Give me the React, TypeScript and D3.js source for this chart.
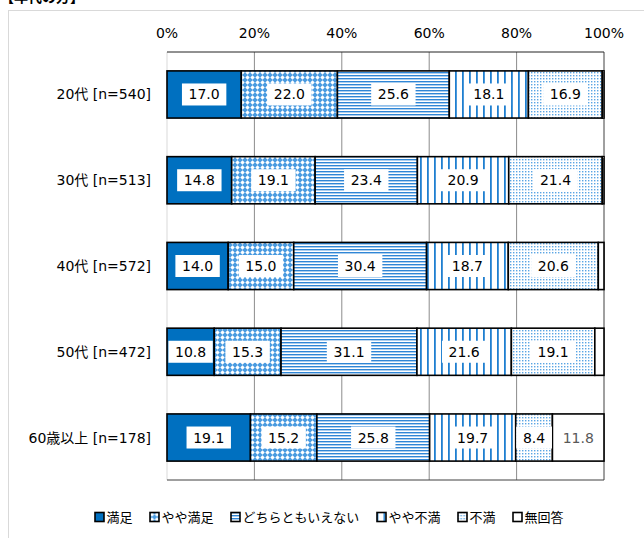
import React from 'react';
import * as d3 from 'd3';

const categories = ['20代 [n=540]', '30代 [n=513]', '40代 [n=572]', '50代 [n=472]', '60歳以上 [n=178]'];
const seriesNames = ['満足', 'やや満足', 'どちらともいえない', 'やや不満', '不満', '無回答'];
const manzoku = [17.0, 14.8, 14.0, 10.8, 19.1];
const yayaManzoku = [22.0, 19.1, 15.0, 15.3, 15.2];
const dochiramo = [25.6, 23.4, 30.4, 31.1, 25.8];
const yayaFuman = [18.1, 20.9, 18.7, 21.6, 19.7];
const fuman = [16.9, 21.4, 20.6, 19.1, 8.4];
const mukaitou = [0.4, 0.4, 1.3, 2.1, 11.8];
const ticks = [0, 20, 40, 60, 80, 100];

const seriesValues = [manzoku, yayaManzoku, dochiramo, yayaFuman, fuman, mukaitou];
const fills = ['#0070C0', 'url(#pDiamond)', 'url(#pHoriz)', 'url(#pVert)', 'url(#pDots)', '#ffffff'];

const FONT = '"DejaVu Sans", "Noto Sans CJK JP", sans-serif';

export default function App() {
  const W = 644;
  const H = 538;

  const rows = categories.map((c, i) => {
    const r: any = { cat: c };
    seriesNames.forEach((s, j) => (r[s] = seriesValues[j][i]));
    return r;
  });
  const stacked = d3.stack<any>().keys(seriesNames)(rows);

  const x = d3.scaleLinear().domain([0, 100]).range([167, 604]);
  const y = d3.scaleBand<string>().domain(categories).range([51.6, 480.4]).paddingInner(0.45).paddingOuter(0.225);

  // legend layout
  const iconW = 9;
  const gapIconText = 3;
  const gapItems = 17;
  const charW = (s: string) => s.length * 13;
  const itemWidths = seriesNames.map(s => iconW + gapIconText + charW(s));
  const totalLegend = d3.sum(itemWidths) + gapItems * (seriesNames.length - 1);
  let lx = 329 - totalLegend / 2;
  const legendX = itemWidths.map(w => {
    const p = lx;
    lx += w + gapItems;
    return p;
  });

  return (
    <div style={{ position: 'absolute', left: 0, top: 0, background: '#fff' }}>
      <svg width={W} height={H} style={{ display: 'block', fontFamily: FONT }}>
        <defs>
          <pattern id="pDiamond" width="5" height="5" patternUnits="userSpaceOnUse">
            <rect width="5" height="5" fill="#4a9be0" />
            <polygon points="2.5,0.3 4.7,2.5 2.5,4.7 0.3,2.5" fill="#ffffff" />
          </pattern>
          <pattern id="pHoriz" width="3" height="3" patternUnits="userSpaceOnUse">
            <rect width="3" height="3" fill="#ffffff" />
            <rect width="3" height="1.4" fill="#2f86d6" />
          </pattern>
          <pattern id="pVert" width="7" height="7" patternUnits="userSpaceOnUse">
            <rect width="7" height="7" fill="#ffffff" />
            <rect width="1.8" height="7" fill="#1f7fd0" />
          </pattern>
          <pattern id="pDots" width="3" height="3" patternUnits="userSpaceOnUse">
            <rect width="3" height="3" fill="#ffffff" />
            <rect width="1.4" height="1.4" fill="#5aa5e4" />
          </pattern>
        </defs>

        <rect x={0} y={0} width={W} height={H} fill="#fff" />
        {/* heading, clipped by the page top as in the source */}
        <text x={0} y={2} fontSize={14} fontWeight="bold" fill="#000">【年代の方】</text>
        {/* outer frame */}
        <rect x={8.5} y={10.5} width={W} height={H} fill="none" stroke="#d9d9d9" />

        {/* gridlines */}
        {ticks.slice(1, -1).map(t => (
          <line key={t} x1={x(t)} x2={x(t)} y1={52} y2={480} stroke="#8c8c8c" strokeWidth={1} />
        ))}
        <line x1={x(0)} x2={x(0)} y1={52} y2={480} stroke="#d9d9d9" />
        <line x1={x(100)} x2={x(100)} y1={52} y2={480} stroke="#404040" />
        <line x1={x(0)} x2={x(100)} y1={52} y2={52} stroke="#222" />
        <line x1={x(0)} x2={x(100)} y1={480} y2={480} stroke="#404040" />

        {/* tick labels */}
        {ticks.map(t => (
          <text key={t} x={x(t)} y={38} fontSize={14} textAnchor="middle" fill="#000">{t}%</text>
        ))}

        {/* category labels */}
        {categories.map(c => (
          <text key={c} x={151} y={(y(c) as number) + y.bandwidth() / 2} fontSize={14} textAnchor="end"
            dominantBaseline="central" fill="#000">{c}</text>
        ))}

        {/* bars */}
        {stacked.map((s, j) => (
          <g key={s.key}>
            {s.map((d, i) => (
              <rect key={i} x={x(d[0])} y={y(categories[i])} width={x(d[1]) - x(d[0])} height={y.bandwidth()}
                fill={fills[j]} stroke="#000" strokeWidth={1.6} />
            ))}
          </g>
        ))}

        {/* value labels */}
        {stacked.map((s, j) => (
          <g key={'l' + s.key}>
            {s.map((d, i) => {
              const v = seriesValues[j][i];
              if (v < 5) return null;
              const label = v.toFixed(1);
              const cx = (x(d[0]) + x(d[1])) / 2;
              const cy = (y(categories[i]) as number) + y.bandwidth() / 2;
              const bw = label.length * 8.6 + 10;
              const last = j === seriesNames.length - 1;
              return (
                <g key={i}>
                  {!last && <rect x={cx - bw / 2} y={cy - 11} width={bw} height={22} fill="#fff" />}
                  <text x={cx} y={cy} fontSize={14} textAnchor="middle" dominantBaseline="central"
                    fill={last ? '#595959' : '#000'}>{label}</text>
                </g>
              );
            })}
          </g>
        ))}

        {/* legend */}
        {seriesNames.map((s, j) => (
          <g key={'lg' + s} transform={`translate(${legendX[j]},512)`}>
            <rect x={0.5} y={0.5} width={iconW} height={iconW} fill={fills[j]} stroke="#000" strokeWidth={1.6} />
            <text x={iconW + gapIconText} y={iconW / 2 + 0.5} fontSize={13} dominantBaseline="central" fill="#000">{s}</text>
          </g>
        ))}
      </svg>
    </div>
  );
}
